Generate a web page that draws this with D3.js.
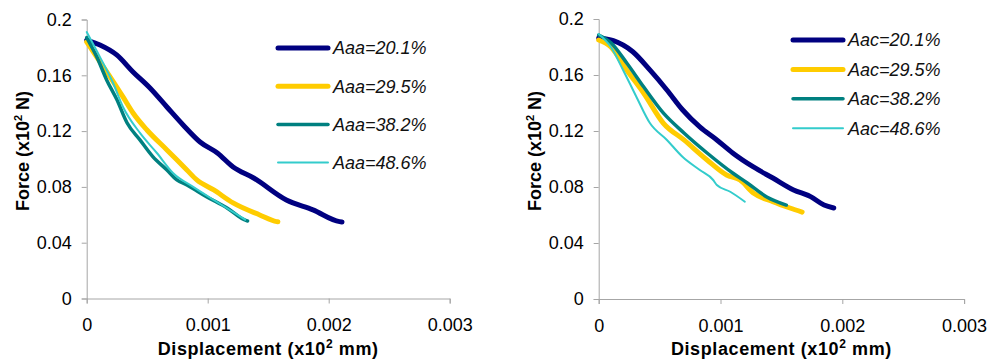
<!DOCTYPE html>
<html><head><meta charset="utf-8">
<script src="https://cdn.jsdelivr.net/npm/d3@7"></script>
<style>
body{margin:0;background:#fff;}
svg{display:block;font-family:"Liberation Sans",Arial,sans-serif;}
</style></head><body>
<div id="chart"></div>
<script>
// ---- data ----
const xTicks = [0, 0.001, 0.002, 0.003];
const yTicks = [0, 0.04, 0.08, 0.12, 0.16, 0.2];
const leftNames = ["Aaa=20.1%", "Aaa=29.5%", "Aaa=38.2%", "Aaa=48.6%"];
const rightNames = ["Aac=20.1%", "Aac=29.5%", "Aac=38.2%", "Aac=48.6%"];
const seriesColors = ["#000080", "#FFCC00", "#008080", "#33CCCC"];
const seriesWidths = [5, 5, 3.5, 2];

// left chart [displacement, force]
const aa201 = [[0,0.1853],[0.00011,0.1817],[0.000248,0.1746],[0.000383,0.1624],[0.000523,0.1509],[0.000663,0.1373],[0.000797,0.1244],[0.000937,0.1122],[0.00108,0.1043],[0.00121,0.0943],[0.00138,0.0864],[0.00165,0.0706],[0.00187,0.0635],[0.00209,0.0551],[0.00211,0.0549]];
const aa295 = [[0,0.184],[0.00011,0.1696],[0.000193,0.1589],[0.0003,0.1445],[0.000383,0.133],[0.000498,0.1208],[0.000663,0.1065],[0.000828,0.0921],[0.00091,0.085],[0.00105,0.0778],[0.00121,0.0685],[0.00143,0.0599],[0.00157,0.0551],[0.00158,0.055]];
const aa382 = [[0,0.187],[0.000083,0.1733],[0.000165,0.1567],[0.00025,0.1424],[0.000333,0.126],[0.00044,0.1137],[0.000548,0.1015],[0.000663,0.0921],[0.000745,0.085],[0.000828,0.0814],[0.00099,0.073],[0.00116,0.0649],[0.00132,0.0558],[0.00133,0.0556]];
const aa486 = [[0,0.191],[0.00011,0.173],[0.000218,0.1545],[0.0003,0.1373],[0.00044,0.1187],[0.00058,0.1043],[0.000713,0.09],[0.00088,0.08],[0.00105,0.0706],[0.00121,0.062],[0.00131,0.0565]];

// right chart
const ac201 = [[0,0.1864],[0.00012,0.1845],[0.00028,0.1766],[0.00042,0.1636],[0.00056,0.1493],[0.00069,0.135],[0.00083,0.1229],[0.00097,0.1136],[0.0011,0.1043],[0.00127,0.0943],[0.00143,0.0864],[0.0016,0.0779],[0.00174,0.0731],[0.00185,0.0671],[0.00193,0.065]];
const ac295 = [[0,0.185],[0.0001,0.18],[0.00023,0.1636],[0.00037,0.147],[0.00053,0.1257],[0.0007,0.1136],[0.00089,0.0993],[0.00105,0.0886],[0.00116,0.085],[0.00127,0.0757],[0.00143,0.0695],[0.00157,0.065],[0.00167,0.0621]];
const ac382 = [[0,0.1886],[0.0001,0.183],[0.00023,0.1686],[0.00037,0.1514],[0.00053,0.1329],[0.0007,0.1186],[0.00089,0.1043],[0.0011,0.09],[0.00122,0.0829],[0.00138,0.0729],[0.00154,0.0671]];
const ac486 = [[0,0.1893],[0.0001,0.18],[0.0002,0.1636],[0.00031,0.1443],[0.00042,0.1257],[0.00056,0.1136],[0.00069,0.1014],[0.00083,0.0921],[0.00094,0.085],[0.00097,0.0814],[0.00108,0.0766],[0.0012,0.0695]];

const W = 991, H = 363;
const svg = d3.select("#chart").append("svg").attr("width", W).attr("height", H);

function drawChart(cfg) {
  const x = d3.scaleLinear().domain([0, 0.003]).range([cfg.x0, cfg.x1]);
  const y = d3.scaleLinear().domain([0, 0.2]).range([cfg.y0, cfg.y1]);
  const g = svg.append("g");

  const xa = g.append("g").attr("transform", `translate(0,${cfg.y0})`)
    .call(d3.axisBottom(x).tickValues(xTicks).tickSize(5).tickPadding(15)
      .tickFormat(d => d === 0 ? "0" : d3.format(".3f")(d)));
  const ya = g.append("g").attr("transform", `translate(${cfg.x0},0)`)
    .call(d3.axisLeft(y).tickValues(yTicks).tickSize(5).tickPadding(10)
      .tickFormat(d => d === 0 ? "0" : String(+d.toFixed(2))));
  [xa, ya].forEach(a => {
    a.select(".domain").attr("stroke", "#a6a6a6").attr("stroke-width", 1);
    a.selectAll(".tick line").attr("stroke", "#a6a6a6");
    a.selectAll(".tick text").attr("fill", "#000").style("font-size", "18px")
      .style("font-family", "'Liberation Sans', Arial, sans-serif");
  });

  const line = d3.line().x(d => x(d[0])).y(d => y(d[1])).curve(d3.curveMonotoneX);
  cfg.series.forEach((s, i) => {
    g.append("path").datum(s).attr("d", line).attr("fill", "none")
      .attr("stroke", seriesColors[i]).attr("stroke-width", seriesWidths[i])
      .attr("stroke-linejoin", "round").attr("stroke-linecap", "round");
  });

  // legend
  cfg.names.forEach((n, i) => {
    const ly = cfg.legY + i * cfg.legDy;
    g.append("line").attr("x1", cfg.legX).attr("x2", cfg.legX + 50)
      .attr("y1", ly).attr("y2", ly)
      .attr("stroke", seriesColors[i]).attr("stroke-width", seriesWidths[i])
      .attr("stroke-linecap", "round");
    g.append("text").attr("x", cfg.legX + 55).attr("y", ly).attr("dy", "0.36em")
      .style("font-size", "18px").style("font-style", "italic").attr("fill", "#111")
      .text(n);
  });

  // axis titles
  const xt = g.append("text").attr("x", (cfg.x0 + cfg.x1) / 2).attr("y", 355)
    .attr("text-anchor", "middle").style("font-size", "18px").style("font-weight", "bold")
    .style("letter-spacing", "0.6px");
  xt.append("tspan").text("Displacement (x10");
  xt.append("tspan").attr("dy", -7).style("font-size", "12px").text("2");
  xt.append("tspan").attr("dy", 7).text(" mm)");

  const yt = g.append("text").attr("transform", `translate(${cfg.yTitleX},151) rotate(-90)`)
    .attr("text-anchor", "middle").style("font-size", "18px").style("font-weight", "bold");
  yt.append("tspan").text("Force (x10");
  yt.append("tspan").attr("dy", -7).style("font-size", "11px").text("2");
  yt.append("tspan").attr("dy", 7).text(" N)");
}

drawChart({x0: 86.7, x1: 449.7, y0: 298.5, y1: 19.5, series: [aa201, aa295, aa382, aa486],
  names: leftNames, legX: 278, legY: 48, legDy: 38.2, yTitleX: 29});
drawChart({x0: 598.7, x1: 964.1, y0: 299, y1: 19, series: [ac201, ac295, ac382, ac486],
  names: rightNames, legX: 793, legY: 40, legDy: 29.4, yTitleX: 541});
</script>
</body></html>
